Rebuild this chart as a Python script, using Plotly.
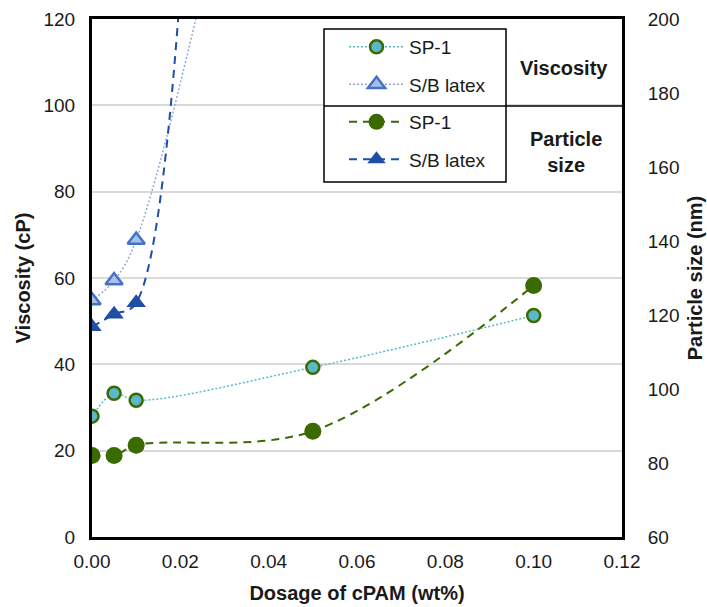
import plotly.graph_objects as go

# ---- data ----
dosage = [0.0, 0.005, 0.01, 0.05, 0.10]
visc_sp1 = [28.0, 33.3, 31.7, 39.3, 51.3]
size_sp1 = [82.0, 82.0, 84.8, 88.6, 128.0]
# S/B latex: last two values are off-scale (estimated)
visc_sb = [54.8, 59.4, 68.8, 240.0, 480.0]
size_sb = [116.8, 120.2, 123.3, 1500.0, 3000.0]

x_ticks = [0, 0.02, 0.04, 0.06, 0.08, 0.10, 0.12]

TEAL = "#5ab8c9"
DGREEN = "#3a6b00"
LBLUE = "#8eaadc"
MBLUE = "#4472c4"
DBLUE = "#1f4ea5"
FONT = "Liberation Sans, Arial, sans-serif"
TXT = "#1a1a1a"

fig = go.Figure()

fig.add_trace(go.Scatter(
    x=dosage, y=visc_sp1, name="SP-1", legendgroup="a",
    mode="lines+markers", line=dict(color=TEAL, width=1.5, dash="2px,2px", shape="spline"),
    marker=dict(symbol="circle", size=13, color=TEAL, line=dict(color=DGREEN, width=2.5)),
))
fig.add_trace(go.Scatter(
    x=dosage, y=visc_sb, name="S/B latex", legendgroup="b",
    mode="lines+markers", line=dict(color=LBLUE, width=1.5, dash="2px,2px", shape="spline"),
    marker=dict(symbol="triangle-up", size=15, color="#a9bfe6", line=dict(color=MBLUE, width=2.5)),
))
fig.add_trace(go.Scatter(
    x=dosage, y=size_sp1, name="SP-1", legendgroup="c", yaxis="y2",
    mode="lines+markers", line=dict(color=DGREEN, width=2, dash="8px,6px", shape="spline"),
    marker=dict(symbol="circle", size=17, color=DGREEN, line=dict(width=0)),
))
fig.add_trace(go.Scatter(
    x=dosage, y=size_sb, name="S/B latex", legendgroup="d", yaxis="y2",
    mode="lines+markers", line=dict(color=DBLUE, width=2, dash="8px,6px", shape="spline"),
    marker=dict(symbol="triangle-up", size=17, color=DBLUE, line=dict(width=0)),
))

axis_font = dict(family=FONT, size=19, color=TXT)
title_font = dict(family=FONT, size=20, color=TXT)

fig.update_layout(
    width=707, height=607,
    margin=dict(l=92, r=85, t=19, b=70, autoexpand=False),
    plot_bgcolor="white", paper_bgcolor="white",
    font=dict(family=FONT, size=19, color=TXT),
    xaxis=dict(
        range=[0, 0.12], tickvals=x_ticks, tickformat=".2f",
        showgrid=False, zeroline=False, automargin=False,
        showline=True, linecolor="black", linewidth=3, mirror=True,
        ticks="outside", ticklen=5, tickcolor="rgba(0,0,0,0)", tickfont=axis_font,
        title=dict(text="<b>Dosage of cPAM (wt%)</b>", font=title_font, standoff=16),
    ),
    yaxis=dict(
        range=[0, 120], dtick=20, showgrid=True, gridcolor="#d9d9d9", gridwidth=1.5,
        zeroline=False, showline=True, linecolor="black", linewidth=3, mirror=True,
        automargin=False,
        ticks="outside", ticklen=10, tickcolor="rgba(0,0,0,0)", tickfont=axis_font,
        title=dict(text="<b>Viscosity (cP)</b>", font=title_font, standoff=8),
    ),
    yaxis2=dict(
        range=[60, 200], dtick=20, overlaying="y", side="right", automargin=False,
        showgrid=False, zeroline=False, showline=True, linecolor="black", linewidth=3,
        ticks="outside", ticklen=19, tickcolor="rgba(0,0,0,0)", tickfont=axis_font,
        title=dict(text="<b>Particle size (nm)</b>", font=title_font, standoff=10),
    ),
    legend=dict(
        x=(344 - 92) / 530, y=1 - (28 - 19) / 518, xanchor="left", yanchor="top",
        bgcolor="rgba(0,0,0,0)", borderwidth=0, tracegroupgap=9.8, itemwidth=55,
        font=dict(family=FONT, size=19, color=TXT),
    ),
    showlegend=True,
)

# legend frame and divider
fig.add_shape(type="rect", xref="paper", yref="paper",
              x0=(324 - 92) / 530, x1=(506 - 92) / 530,
              y0=1 - (182 - 19) / 518, y1=1 - (29 - 19) / 518,
              line=dict(color="black", width=1.5), fillcolor="white", layer="above")
fig.add_shape(type="line", xref="paper", yref="paper",
              x0=(324 - 92) / 530, x1=1.0,
              y0=1 - (106 - 19) / 518, y1=1 - (106 - 19) / 518,
              line=dict(color="black", width=1.5), layer="above")

fig.add_annotation(text="<b>Viscosity</b>", xref="paper", yref="paper",
                   x=(564 - 92) / 530, y=1 - (68 - 19) / 518, showarrow=False,
                   xanchor="center", yanchor="middle",
                   font=dict(family=FONT, size=20, color=TXT))
fig.add_annotation(text="<b>Particle<br>size</b>", xref="paper", yref="paper",
                   x=(566 - 92) / 530, y=1 - (152 - 19) / 518, showarrow=False,
                   xanchor="center", yanchor="middle",
                   font=dict(family=FONT, size=20, color=TXT))

fig.write_html("out.html")
